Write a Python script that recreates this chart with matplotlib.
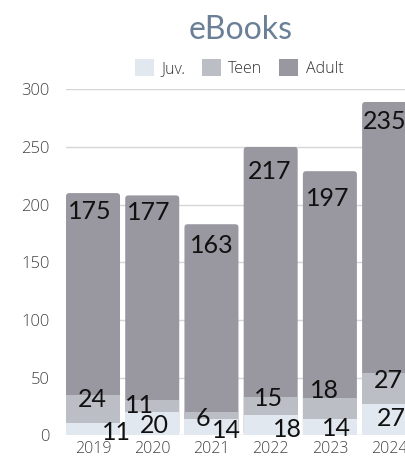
import matplotlib.pyplot as plt
from matplotlib.patches import Patch, FancyBboxPatch
import numpy as np

years = ['2019', '2020', '2021', '2022', '2023', '2024']
juv = [11, 20, 14, 18, 14, 27]
teen = [24, 11, 6, 15, 18, 27]
adult = [175, 177, 163, 217, 197, 235]

c_juv, c_teen, c_adult = '#e2e8f0', '#bcbec5', '#99979f'

# hand nudges for the value labels (pixels: right, down from the segment top)
nudge_adult = [(-3.5, 17), (-3.5, 16), (0.5, 20), (-1.5, 23), (-2.5, 26), (-4, 18)]
nudge_teen = [(-1, 3), (-12.5, 4.5), (-9, 4.5), (-2, -0.5), (-5, -9.5), (-0.5, 6)]
nudge_juv = [(23, 8), (2.5, 12), (15.5, 10), (17, 13.5), (7, 8), (2.5, 13)]

fig = plt.figure(figsize=(4.06, 4.58), dpi=100)
ax = fig.add_axes([66 / 406, 22.7 / 458, 340 / 406, 346 / 458])

x = np.arange(len(years))
w = 0.912
juv = np.array(juv)
teen = np.array(teen)
adult = np.array(adult)
total = juv + teen + adult

ax.set_xlim(-w / 2, 5.285)
ax.set_ylim(0, 300)

# adult bars run from zero so the rounded bottom is hidden under the lower segments
px_x = 340 / (5.285 + w / 2)
px_y = 346 / 300
for xi, t in zip(x, total):
    ax.add_patch(FancyBboxPatch((xi - w / 2, 0), w, t,
                                boxstyle='round,pad=0,rounding_size=0.055',
                                mutation_aspect=px_x / px_y,
                                fc=c_adult, ec='none', zorder=2))
ax.bar(x, teen, w, bottom=juv, color=c_teen, zorder=3)
ax.bar(x, juv, w, color=c_juv, zorder=4)

lab = dict(fontsize=18, family='Lato', color='#111111',
           ha='center', va='baseline', textcoords='offset pixels', zorder=6,
           annotation_clip=False)
for i in range(len(years)):
    for val, top, (dx, dy) in [(adult[i], total[i], nudge_adult[i]),
                               (teen[i], juv[i] + teen[i], nudge_teen[i]),
                               (juv[i], juv[i], nudge_juv[i])]:
        ax.annotate(str(val), xy=(x[i], top), xytext=(dx, -(dy + 9)), **lab)

ax.set_yticks(np.arange(0, 301, 50))
ax.set_xticks(x)
ax.set_xticklabels(years)
ax.grid(axis='y', color='#d6d6d6', linewidth=1, zorder=0)
ax.set_axisbelow(True)
for s in ax.spines.values():
    s.set_visible(False)
ax.tick_params(length=0, labelsize=12, labelcolor='#444444')
ax.tick_params(axis='y', pad=12)
ax.tick_params(axis='x', labelsize=11.5, pad=4)
for t in ax.get_xticklabels() + ax.get_yticklabels():
    t.set_family('Open Sans')
    t.set_fontweight('light')

fig.text(241 / 406, 1 - 30 / 458, 'eBooks', ha='center', va='center',
         fontsize=23, family='Lato', color='#6b8097')

handles = [Patch(fc=c_juv, ec='none'), Patch(fc=c_teen, ec='none'), Patch(fc=c_adult, ec='none')]
leg = fig.legend(handles, ['Juv.', 'Teen', 'Adult'], ncol=3, frameon=False,
                 loc='center', bbox_to_anchor=(239 / 406, 1 - 68 / 458),
                 prop=dict(family='Open Sans', size=11.5, weight='light'),
                 handlelength=1.2, handleheight=1.2, handletextpad=0.45,
                 columnspacing=1.05, borderpad=0)
for t in leg.get_texts():
    t.set_color('#333333')

fig.savefig('out.png', dpi=100)
